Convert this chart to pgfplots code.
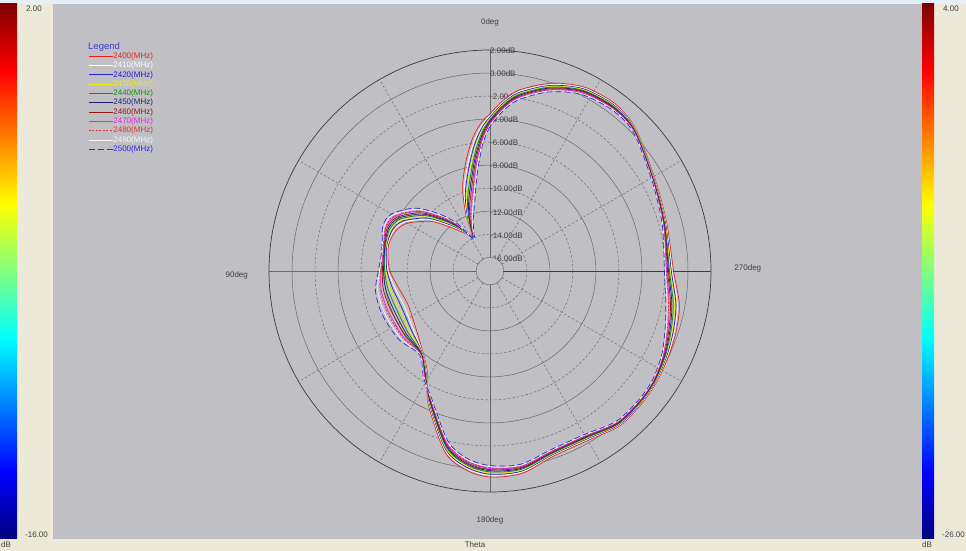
\documentclass[border=0pt]{standalone}
\usepackage{fontspec}
\setmainfont{Liberation Sans}
\usepackage{pgfplots}
\pgfplotsset{compat=1.18}
\usepackage{pgfplotstable}
\usepgfplotslibrary{polar}

\definecolor{bggray}{RGB}{192,192,196}
\definecolor{panel}{RGB}{236,233,216}
\definecolor{topstrip}{RGB}{230,238,247}
\definecolor{c2400}{RGB}{235,30,30}
\definecolor{c2410}{RGB}{255,255,255}
\definecolor{c2420}{RGB}{30,30,210}
\definecolor{c2430}{RGB}{240,240,0}
\definecolor{c2440}{RGB}{20,140,20}
\definecolor{c2450}{RGB}{30,30,120}
\definecolor{c2460}{RGB}{150,20,20}
\definecolor{c2470}{RGB}{235,30,235}
\definecolor{c2480}{RGB}{230,50,50}
\definecolor{c2490}{RGB}{245,245,245}
\definecolor{c2500}{RGB}{40,40,230}
\definecolor{legblue}{RGB}{60,60,220}
\definecolor{gridc}{RGB}{105,105,105}
\definecolor{axc}{RGB}{60,60,60}
\definecolor{txt}{RGB}{64,64,64}
\definecolor{jdb}{rgb}{0,0,0.5}
\definecolor{jb}{rgb}{0,0,1}
\definecolor{jc}{rgb}{0,1,1}
\definecolor{jy}{rgb}{1,1,0}
\definecolor{jr}{rgb}{1,0,0}
\definecolor{jdr}{rgb}{0.5,0,0}
\pgfdeclareverticalshading{jet}{100bp}{color(0bp)=(jdb); color(25bp)=(jdb); color(31.25bp)=(jb); color(43.75bp)=(jc); color(56.25bp)=(jy); color(68.75bp)=(jr); color(75bp)=(jdr); color(100bp)=(jdr)}

% angle (deg, 0 = top, counter-clockwise) and gain in dB per frequency
\pgfplotstableread{
a   f2400 f2410 f2420 f2430 f2440 f2450 f2460 f2470 f2480 f2490 f2500
0   -3.55 -3.72 -3.83 -3.94 -4.05 -4.16 -4.27 -4.38 -4.43 -4.54 -4.65
3   -4.2  -4.47 -4.65 -4.83 -5.01 -5.19 -5.37 -5.55 -5.64 -5.82 -6.0
7   -5.4  -5.85 -6.15 -6.45 -6.75 -7.05 -7.35 -7.65 -7.8  -8.1  -8.4
12  -7.3  -7.84 -8.2  -8.56 -8.92 -9.28 -9.64 -10.0 -10.18 -10.54 -10.9
18  -9.5  -9.95 -10.25 -10.55 -10.85 -11.15 -11.45 -11.75 -11.9 -12.2 -12.5
23  -11.8 -12.07 -12.25 -12.43 -12.61 -12.79 -12.97 -13.15 -13.24 -13.42 -13.6
27  -13.65 -13.73 -13.78 -13.83 -13.88 -13.93 -13.98 -14.03 -14.05 -14.1 -14.15
35  -13.1 -12.95 -12.85 -12.75 -12.65 -12.55 -12.45 -12.35 -12.3 -12.2 -12.1
42  -12.1 -11.86 -11.7 -11.54 -11.38 -11.22 -11.06 -10.9 -10.82 -10.66 -10.5
50  -10.5 -10.23 -10.05 -9.87 -9.69 -9.51 -9.33 -9.15 -9.06 -8.88 -8.7
60  -8.9  -8.66 -8.5  -8.34 -8.18 -8.02 -7.86 -7.7  -7.62 -7.46 -7.3
67  -8.3  -8.12 -8.0  -7.88 -7.76 -7.64 -7.52 -7.4  -7.34 -7.22 -7.1
75  -8.1  -8.01 -7.95 -7.89 -7.83 -7.77 -7.71 -7.65 -7.62 -7.56 -7.5
82  -8.25 -8.16 -8.1  -8.04 -7.98 -7.92 -7.86 -7.8  -7.77 -7.71 -7.65
90  -8.5  -8.35 -8.25 -8.15 -8.05 -7.95 -7.85 -7.75 -7.7  -7.6  -7.5
100 -9.1  -8.8  -8.6  -8.4  -8.2  -8.0  -7.8  -7.6  -7.5  -7.3  -7.1
112 -9.5  -9.14 -8.9  -8.66 -8.42 -8.18 -7.94 -7.7  -7.58 -7.34 -7.1
127 -9.1  -8.83 -8.65 -8.47 -8.29 -8.11 -7.93 -7.75 -7.66 -7.48 -7.3
140 -8.1  -8.04 -8.0  -7.96 -7.92 -7.88 -7.84 -7.8  -7.78 -7.74 -7.7
148 -6.9  -6.81 -6.75 -6.69 -6.63 -6.57 -6.51 -6.45 -6.42 -6.36 -6.3
155 -4.5  -4.59 -4.65 -4.71 -4.77 -4.83 -4.89 -4.95 -4.98 -5.04 -5.1
166 -1.0  -1.15 -1.25 -1.35 -1.45 -1.55 -1.65 -1.75 -1.8  -1.9  -2.0
173 0.2   0.05  -0.05 -0.15 -0.25 -0.35 -0.45 -0.55 -0.6  -0.7  -0.8
180 0.7   0.55  0.45  0.35  0.25  0.15  0.05  -0.05 -0.1  -0.2  -0.3
189 0.6   0.48  0.4   0.32  0.24  0.16  0.08  0.0   -0.04 -0.12 -0.2
199 -0.2  -0.29 -0.35 -0.41 -0.47 -0.53 -0.59 -0.65 -0.68 -0.74 -0.8
210 -0.2  -0.29 -0.35 -0.41 -0.47 -0.53 -0.59 -0.65 -0.68 -0.74 -0.8
220 0.35  0.28  0.23  0.18  0.13  0.08  0.03  -0.03 -0.05 -0.1  -0.15
229 0.3   0.24  0.2   0.16  0.12  0.08  0.04  0.0   -0.02 -0.06 -0.1
236 0.2   0.14  0.1   0.06  0.02  -0.02 -0.06 -0.1  -0.12 -0.16 -0.2
244 0.0   -0.09 -0.15 -0.21 -0.27 -0.33 -0.39 -0.45 -0.48 -0.54 -0.6
252 -0.2  -0.35 -0.45 -0.55 -0.65 -0.75 -0.85 -0.95 -1.0  -1.1  -1.2
260 -0.5  -0.68 -0.8  -0.92 -1.04 -1.16 -1.28 -1.4  -1.46 -1.58 -1.7
270 -1.25 -1.37 -1.45 -1.53 -1.61 -1.69 -1.77 -1.85 -1.89 -1.97 -2.05
285 -1.3  -1.36 -1.4  -1.44 -1.48 -1.52 -1.56 -1.6  -1.62 -1.66 -1.7
298 -0.85 -0.9  -0.93 -0.96 -0.99 -1.02 -1.05 -1.08 -1.09 -1.12 -1.15
311 0.15  0.1   0.08  0.05  0.02  -0.02 -0.05 -0.08 -0.09 -0.12 -0.15
317 0.7   0.64  0.6   0.56  0.52  0.48  0.44  0.4   0.38  0.34  0.3
324 0.95  0.86  0.8   0.74  0.68  0.62  0.56  0.5   0.47  0.41  0.35
333 0.75  0.65  0.58  0.51  0.44  0.37  0.3   0.23  0.19  0.12  0.05
342 -0.05 -0.17 -0.25 -0.33 -0.41 -0.49 -0.57 -0.65 -0.69 -0.77 -0.85
351 -1.3  -1.44 -1.53 -1.62 -1.71 -1.8  -1.89 -1.98 -2.02 -2.11 -2.2
356 -2.45 -2.6  -2.7  -2.8  -2.9  -3.0  -3.1  -3.2  -3.25 -3.35 -3.45
360 -3.55 -3.72 -3.83 -3.94 -4.05 -4.16 -4.27 -4.38 -4.43 -4.54 -4.65
}\patt

\begin{document}
\begin{tikzpicture}[x=1pt,y=1pt]
\useasboundingbox (0,0) rectangle (966,551);
\fill[panel] (0,0) rectangle (966,551);
\fill[topstrip] (0,547) rectangle (966,551);
\fill[bggray] (53,12) rectangle (922,547);
\shade[shading=jet] (0,12) rectangle (17,547);
\shade[shading=jet] (922,12) rectangle (934,547);
\begin{scope}[font=\fontsize{8}{9}\selectfont, text=txt, inner sep=0pt]
\node[anchor=west] at (26,542) {2.00};
\node[anchor=west] at (25,16) {-16.00};
\node[anchor=west] at (1,6) {dB};
\node[anchor=west] at (943,542) {4.00};
\node[anchor=west] at (942,16) {-26.00};
\node[anchor=west] at (922,6) {dB};
\node at (475,6) {Theta};
\end{scope}
\node[anchor=west, inner sep=0pt, text=legblue, font=\fontsize{9.5}{11}\selectfont] at (88,504) {Legend};

\begin{polaraxis}[
  at={(490pt,280pt)}, anchor=center,
  scale only axis, width=442pt, height=442pt,
  xmin=0, xmax=360, ymin=0, ymax=19.2,
  clip=false,
  xtick={0,90,180,270},
  minor xtick={30,60,120,150,210,240,300,330},
  ytick={1.2,5.2,9.2,13.2,17.2},
  minor ytick={3.2,7.2,11.2,15.2},
  xticklabel=\empty, yticklabel=\empty,
  grid=both,
  major grid style={gridc, line width=0.5pt},
  minor grid style={gridc, dash pattern=on 2.5pt off 2pt, line width=0.45pt},
  axis line style={axc, line width=0.7pt},
  major tick length=0pt, minor tick length=0pt,
  legend style={at={(axis description cs:-0.4095,0.996)}, anchor=north west,
    draw=none, fill=none, font=\fontsize{8}{9}\selectfont,
    row sep=0.8pt, inner sep=0pt,
    nodes={inner sep=0.5pt, text height=6pt, text depth=1.5pt, anchor=west}},
  legend cell align=left,
  legend image code/.code={\draw[#1, line width=0.7pt] (0pt,0pt) -- (24pt,0pt);},
  every axis plot/.append style={line width=0.7pt, smooth, tension=0.5},
]
\node[anchor=west, yshift=-1pt, inner sep=0pt, text=txt, font=\fontsize{8}{9}\selectfont] at (axis cs:90,19.2) {2.00dB};
\node[anchor=west, yshift=-1pt, inner sep=0pt, text=txt, font=\fontsize{8}{9}\selectfont] at (axis cs:90,17.2) {0.00dB};
\node[anchor=west, yshift=-1pt, inner sep=0pt, text=txt, font=\fontsize{8}{9}\selectfont] at (axis cs:90,15.2) {-2.00dB};
\node[anchor=west, yshift=-1pt, inner sep=0pt, text=txt, font=\fontsize{8}{9}\selectfont] at (axis cs:90,13.2) {-4.00dB};
\node[anchor=west, yshift=-1pt, inner sep=0pt, text=txt, font=\fontsize{8}{9}\selectfont] at (axis cs:90,11.2) {-6.00dB};
\node[anchor=west, yshift=-1pt, inner sep=0pt, text=txt, font=\fontsize{8}{9}\selectfont] at (axis cs:90,9.2) {-8.00dB};
\node[anchor=west, yshift=-1pt, inner sep=0pt, text=txt, font=\fontsize{8}{9}\selectfont] at (axis cs:90,7.2) {-10.00dB};
\node[anchor=west, yshift=-1pt, inner sep=0pt, text=txt, font=\fontsize{8}{9}\selectfont] at (axis cs:90,5.2) {-12.00dB};
\node[anchor=west, yshift=-1pt, inner sep=0pt, text=txt, font=\fontsize{8}{9}\selectfont] at (axis cs:90,3.2) {-14.00dB};
\node[anchor=west, yshift=-1pt, inner sep=0pt, text=txt, font=\fontsize{8}{9}\selectfont] at (axis cs:90,1.2) {-16.00dB};
\node[inner sep=0pt, text=txt, font=\fontsize{8}{9}\selectfont] at (axis cs:90,21.6) {0deg};
\node[yshift=-4pt, inner sep=0pt, text=txt, font=\fontsize{8}{9}\selectfont] at (axis cs:180,22.0) {90deg};
\node[yshift=3pt, inner sep=0pt, text=txt, font=\fontsize{8}{9}\selectfont] at (axis cs:0,22.4) {270deg};
\node[inner sep=0pt, text=txt, font=\fontsize{8}{9}\selectfont] at (axis cs:270,21.7) {180deg};
\addplot[c2400] table[x expr=\thisrow{a}+90, y expr=\thisrow{f2400}+17.2] {\patt};
\addlegendentry{\textcolor{c2400}{2400(MHz)}}
\addplot[c2410] table[x expr=\thisrow{a}+90, y expr=\thisrow{f2410}+17.2] {\patt};
\addlegendentry{\textcolor{c2410}{2410(MHz)}}
\addplot[c2420] table[x expr=\thisrow{a}+90, y expr=\thisrow{f2420}+17.2] {\patt};
\addlegendentry{\textcolor{c2420}{2420(MHz)}}
\addplot[c2430] table[x expr=\thisrow{a}+90, y expr=\thisrow{f2430}+17.2] {\patt};
\addlegendentry{\textcolor{c2430}{2430(MHz)}}
\addplot[c2440] table[x expr=\thisrow{a}+90, y expr=\thisrow{f2440}+17.2] {\patt};
\addlegendentry{\textcolor{c2440}{2440(MHz)}}
\addplot[c2450] table[x expr=\thisrow{a}+90, y expr=\thisrow{f2450}+17.2] {\patt};
\addlegendentry{\textcolor{c2450}{2450(MHz)}}
\addplot[c2460] table[x expr=\thisrow{a}+90, y expr=\thisrow{f2460}+17.2] {\patt};
\addlegendentry{\textcolor{c2460}{2460(MHz)}}
\addplot[c2470] table[x expr=\thisrow{a}+90, y expr=\thisrow{f2470}+17.2] {\patt};
\addlegendentry{\textcolor{c2470}{2470(MHz)}}
\addplot[c2480, dash pattern=on 2pt off 1.5pt] table[x expr=\thisrow{a}+90, y expr=\thisrow{f2480}+17.2] {\patt};
\addlegendentry{\textcolor{c2480}{2480(MHz)}}
\addplot[c2490] table[x expr=\thisrow{a}+90, y expr=\thisrow{f2490}+17.2] {\patt};
\addlegendentry{\textcolor{c2490}{2490(MHz)}}
\addplot[c2500, dash pattern=on 6pt off 3pt] table[x expr=\thisrow{a}+90, y expr=\thisrow{f2500}+17.2] {\patt};
\addlegendentry{\textcolor{c2500}{2500(MHz)}}
\fill[bggray] (axis cs:0,0) circle[radius=13.2pt];
\end{polaraxis}
\end{tikzpicture}
\end{document}
